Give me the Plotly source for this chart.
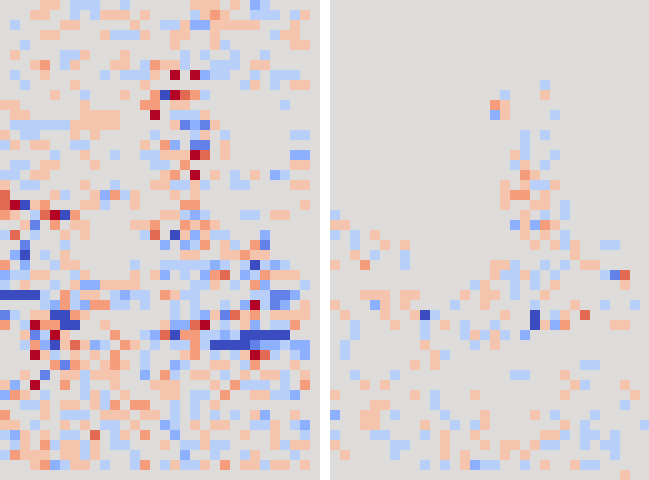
import plotly.graph_objects as go
from plotly.subplots import make_subplots

EMPTY = ".... .... .... .... .... .... .... ...."

# one character per cell:
# a b c d = strong to weak negative, . = zero, 1 2 3 4 = weak to strong positive
left_rows = [
    ".... 11.d dd.. d... ...1 11.1 .cd. ....",
    "...1 1..d .d11 1.1. ...d 121. .ddd .d1.",
    ".d.. ..11 .... .1.. dd1c c111 11.. .1..",
    ".... 11.. ..1d dd1. .11. .1.. ...d 11..",
    "..d. .... .... .... .1.. .1d. .... .11.",
    ".1.. ..dd 1... 1... ..d. d..d ..d. ....",
    "...1 2.d1 ...1 1.d2 11d. .ddd .11. ....",
    ".d.. 1... ..d. ddd1 .4.4 cdd. .d.d dd..",
    "..d. ...1 .... ..1. .... .... d1.d .11.",
    ".... .1.. d... 1..2 a432 d... .... ....",
    "11.. .... 1... ..22 .11. .... .... d...",
    ".11. .... 1111 ...4 .ddd 1... .... ....",
    ".ddd ddd1 1111 .... .1bc b1.. .... ....",
    "1.dd ...1 .1.. ...d ...d 1.d. .... .dd.",
    "d1.1 1..d d... ..1. 2c.b b.1. .... ....",
    ".... .d.. 1..d ..dd 1114 3.1. .... .cc.",
    ".dd. 11.. .1.. ...d d.2. .... .... .11.",
    "dd.1 1... .... .... 12.4 .1.d .1.c d...",
    "1.dd .... 1..d ...1 1dd1 d..d d... .11.",
    "3... .1d. .1c2 d1.. .1.1 .... .... ....",
    "34a1 2... 11d. .1.. ..22 .... .... ..1.",
    "21.d 34a2 .... .... 11dc d... dd.1 1...",
    "..1b .2.1 1... .112 ..21 21.. .... ....",
    "d3.d ..1. 1... ..d3 .a1c 1dd. ..c. ....",
    "..b. ..d. .... .... c.cd 2.1d .2b. ....",
    ".ca. d.1. .... .... ..11 ..11 211. ....",
    "2.c. .d11 .... .d.. dddd dcd. dadc d...",
    "cdd1 1..d 1... .1.1 c.d. c23. cd21 11..",
    "d.1. .d.1 cc11 11.. ...d d1.d .2c. ..d.",
    "aaaa d.2d 11.d cdd. 21dd .... .ddb bc..",
    ".... dc2d c22d d.d. .d.d ..d. c4db c.1.",
    "bd.1 1aa2 1... .... .d.d c1b3 12.1 111.",
    "2.d4 22aa ..1. .... 1cc3 4.d. 1c.d d2..",
    "..1b d41. ...2 ..dc 3a22 ddcd aaaa a...",
    "..d2 ca13 1cd. 21.d .dd2 daaa abcc dcc.",
    "...4 1d.1 .1.2 ..d. ..12 .d.d 143d .dc.",
    ".... .2b2 1.12 1.d. .cd. .11. d2.. .1..",
    "..1. b.11 d111 ..c. 2d.1 1.d. 1.11 d.1.",
    "1c.4 ..2. d..1 ...1 11.. .1.2 ddd. d.2.",
    "c21. d... d1d. 1... 11.d d.2. .11d dc..",
    "..dd 1.11 .1d2 .22. .d.d .1.. .... ....",
    "2... 1.dd d.11 1.11 .d.d .d.d .1c. .1..",
    "11.d ..1. 1.dd .1.. cd.1 .11. .dd1 .dc.",
    "dc1. 1.dd .3.d 1.2. .c.. 1... 1..1 ..d.",
    ".d1. 2d11 d1.d d... 1.dd 1dd. ...1 d11.",
    "d211 1.11 d1.. .d.. ..c. .d.. d1.. .d..",
    "...1 2cd1 1.d. .d2. d1dd 1.2. 11d1 1.1.",
    EMPTY,
]

right_rows = [
    EMPTY, EMPTY, EMPTY, EMPTY, EMPTY, EMPTY, EMPTY, EMPTY,
    ".... .... .... .... .... .d.. .... ....",
    ".... .... .... .... .d.. .1.. .... ....",
    ".... .... .... .... 21.. .... .... ....",
    ".... .... .... .... c1.. ..d. .... ....",
    EMPTY,
    ".... .... .... .... ...d .d.. .... ....",
    ".... .... .... .... ...d .... .... ....",
    ".... .... .... .... ..1d ..d. .... ....",
    ".... .... .... .... ..d1 .d.. .... ....",
    ".... .... .... .... ...2 1... .... ....",
    ".... .... .... .... .1.1 dd1. .... ....",
    ".... .... .... .... .122 .1.. .... ....",
    ".... .... .... .... .1.. 11.d .... ....",
    "d... .... .... .... ...1 .d.d .... ....",
    "11.. .... .... .... ..c1 c21. .... ....",
    "d.d. 1... .... .... ...1 .1.d .... ....",
    "..d. .1.1 .... .... .... 1.1d 1..d d...",
    "..1. d..d .... .... .... .... 1... ....",
    "1..2 ...d .... .... 11d. .d.d .11. ....",
    ".... .... .... .... 1dd1 d.d. ...d b3..",
    ".... .... .... ..d1 ..d. d.1. .... .1..",
    "...1 11.1 1... .1.1 1.d. .1.. .... ....",
    "1... c1.1 .... d..1 .... d... 1..d ..d.",
    ".1.. .1.. 1ad. .... .1.. a.d1 .3.. ....",
    "..d. ..1. .d.1 .d.. d... a1c2 .... 11..",
    "..d. .... .d.. .d1d 1d.c .... .... ....",
    ".d.. .... .1.. ..d. 1... .... .... ....",
    ".d.. .... ..1d .... .... .... .... ....",
    ".... .... 1.1. .... .... .... .dd. ....",
    "..d. ..d. .... .... ..dd ...1 .... ....",
    "...1 .1.. .... .... .... .... 1d.. .1..",
    "1... .... 1.d. ..1. .... ...1 .... ..1.",
    ".... 11.. ..d. .... .... .... .... .d..",
    "c..1 1.d. ...d ...1 .... 1.d. ..d. ....",
    "...1 1... .1.. d.d1 .... ...1 .d.. ...d",
    "d... dd.. .d.1 ..1. .... .11d .dd. d...",
    "1... ..dd ...1 ...1 .11. 1dd. .d.d d...",
    ".1.. ..d. ...1 .1.. .1.1 .... .... d...",
    ".... .... .d.d .1cd d..d .1.. 1dd. ....",
    ".... .... .... .... .... .... .... .1..",
]

level_chars = "abcd.1234"
level_values = [-4, -3, -2, -1, 0, 1, 2, 3, 4]
level_colors = ["#3b4cc0", "#6282ea", "#8db0fe", "#b8d0f9", "#dddcdb",
                "#f5c4ac", "#f59c7d", "#e26952", "#b40426"]


def to_grid(rows):
    lookup = dict(zip(level_chars, level_values))
    return [[lookup[ch] for ch in row.replace(" ", "")] for row in rows]


n = len(level_colors)
colorscale = []
for i, color in enumerate(level_colors):
    colorscale += [[i / n, color], [(i + 1) / n, color]]

W, H = 649, 480
fig = make_subplots(rows=1, cols=2)
for col, rows in enumerate([left_rows, right_rows], start=1):
    fig.add_trace(
        go.Heatmap(z=to_grid(rows), zmin=-4.5, zmax=4.5, colorscale=colorscale,
                   showscale=False, hoverongaps=False),
        row=1, col=col,
    )

axis = dict(visible=False, showgrid=False, zeroline=False)
fig.update_layout(
    width=W, height=H, margin=dict(l=0, r=0, t=0, b=0),
    paper_bgcolor="white", plot_bgcolor="white",
    xaxis=dict(axis, domain=[0, 320 / W], range=[-0.5, 31.5]),
    xaxis2=dict(axis, domain=[330 / W, 1], range=[-0.5, 31.4]),
    yaxis=dict(axis, domain=[0, 1], range=[47.5, -0.5]),
    yaxis2=dict(axis, domain=[0, 1], range=[47.5, -0.5]),
)

fig.write_html(
    "out.html",
    config={"displayModeBar": False},
    post_script="document.body.style.margin='0';document.body.style.overflow='hidden';",
)
